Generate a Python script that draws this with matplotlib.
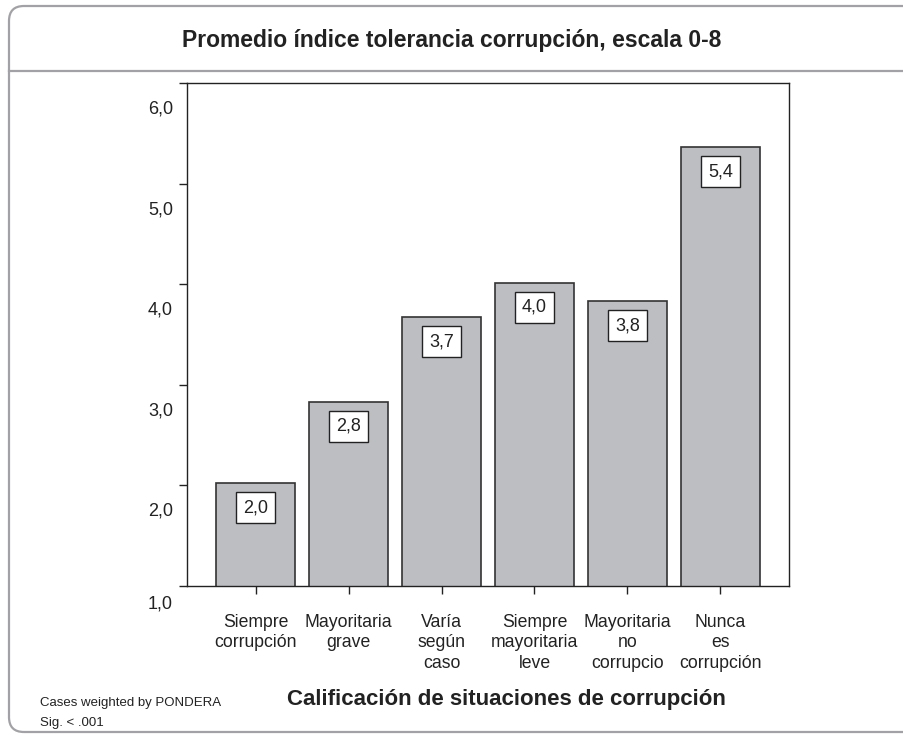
import matplotlib
matplotlib.use("Agg")
import matplotlib.pyplot as plt
from matplotlib.patches import FancyBboxPatch
from matplotlib.lines import Line2D
from matplotlib.transforms import ScaledTranslation

plt.rcParams['font.family'] = ['Liberation Sans', 'DejaVu Sans']

# data
categories = ['Siempre\ncorrupción', 'Mayoritaria\ngrave', 'Varía\nsegún\ncaso',
              'Siempre\nmayoritaria\nleve', 'Mayoritaria\nno\ncorrupcio',
              'Nunca\nes\ncorrupción']
means = [2.02, 2.83, 3.67, 4.01, 3.83, 5.36]
y_ticks = [1, 2, 3, 4, 5, 6]
y_tick_labels = ['1,0', '2,0', '3,0', '4,0', '5,0', '6,0']

W, H = 904, 734
fig = plt.figure(figsize=(W / 100, H / 100), dpi=100)

# outer rounded frame and header divider
frame = FancyBboxPatch((0.09, 0.02), 9.6, 7.26,
                       boxstyle="round,pad=0,rounding_size=0.15",
                       transform=fig.dpi_scale_trans, facecolor='none',
                       edgecolor='#a2a2a6', linewidth=1.6, clip_on=False)
fig.patches.append(frame)
fig.lines.append(Line2D([0.09, 9.04], [(H - 71) / 100] * 2,
                        transform=fig.dpi_scale_trans,
                        color='#a2a2a6', linewidth=1.6))

fig.text(0.5, 1 - 41 / H, 'Promedio índice tolerancia corrupción, escala 0-8',
         ha='center', va='center', fontsize=16.5, fontweight='bold', color='#222222')

ax = fig.add_axes([187 / W, 1 - 586 / H, (789 - 187) / W, (586 - 83) / H])

x = list(range(len(categories)))
ax.bar(x, means, bottom=0, width=0.85, color='#bdbec2',
       edgecolor='#333333', linewidth=1.2, zorder=2)
ax.set_xlim(-0.74, len(categories) - 1 + 0.74)
ax.set_ylim(1, 6)

for xi, v in zip(x, means):
    ax.annotate(f'{v:.1f}'.replace('.', ','), (xi, v), xytext=(0, -17.5),
                textcoords='offset points', ha='center', va='center',
                fontsize=13, color='#222222', zorder=3,
                bbox=dict(boxstyle='square,pad=0.38', facecolor='white',
                          edgecolor='#222222', linewidth=1.0))

ax.set_xticks(x)
ax.set_xticklabels(categories, fontsize=12.7, color='#222222', linespacing=1.26)
ax.set_yticks(y_ticks)
ax.set_yticklabels(y_tick_labels, fontsize=13, color='#222222')
ax.tick_params(axis='x', direction='out', length=5.5, width=1, pad=14.5, color='#222222')
ax.tick_params(axis='y', direction='out', length=6, width=1, pad=4, color='#222222')

# y labels sit below their ticks in the original
for i, lbl in enumerate(ax.get_yticklabels()):
    dy = -0.16 if i == 0 else -0.24
    lbl.set_transform(lbl.get_transform() + ScaledTranslation(0, dy, fig.dpi_scale_trans))

for s in ax.spines.values():
    s.set_color('#222222')
    s.set_linewidth(1.0)

fig.text(506 / W, 1 - 700 / H, 'Calificación de situaciones de corrupción',
         ha='center', va='center', fontsize=16, fontweight='bold', color='#222222')
fig.text(40 / W, 1 - 703 / H, 'Cases weighted by PONDERA',
         ha='left', va='center', fontsize=9.5, color='#222222')
fig.text(40 / W, 1 - 723 / H, 'Sig. < .001',
         ha='left', va='center', fontsize=9.5, color='#222222')

fig.savefig('out.png', dpi=100)
